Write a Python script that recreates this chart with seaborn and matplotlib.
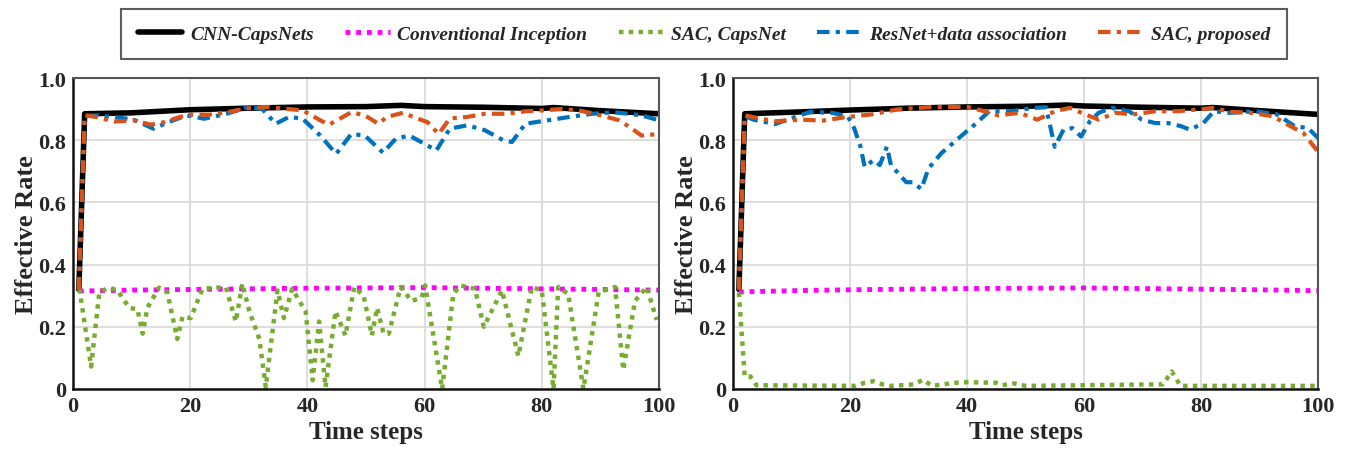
import numpy as np
import pandas as pd
import seaborn as sns
import matplotlib
matplotlib.use("Agg")
import matplotlib.pyplot as plt

# ---------------- data ----------------
# left panel
cnn_x_l = [1, 2, 10, 20, 30, 40, 50, 56, 60, 70, 80, 82, 90, 100]
cnn_y_l = [0.32, 0.885, 0.888, 0.898, 0.903, 0.907, 0.908, 0.912, 0.908, 0.906, 0.902, 0.905, 0.895, 0.885]

incep_x_l = [1, 10, 20, 30, 40, 50, 60, 70, 80, 90, 100]
incep_y_l = [0.315, 0.318, 0.32, 0.322, 0.324, 0.325, 0.326, 0.324, 0.322, 0.32, 0.318]

sac_caps_x_l = [1.1, 3.1, 4.5, 6.2, 7.6, 9.6, 11.0, 11.9, 12.7, 14.7, 16.1, 17.8, 18.7, 20.1,
                22.1, 24.7, 26.1, 27.8, 28.9, 30.1, 31.8, 32.9, 34.9, 36.0, 37.4, 39.7, 40.9,
                42.0, 43.1, 44.8, 46.5, 48.0, 49.6, 51.0, 51.9, 53.0, 53.9, 55.9, 57.8, 59.5,
                60.1, 63.0, 64.9, 66.1, 68.6, 70.1, 73.2, 76.0, 78.3, 80.0, 82.0, 82.8, 84.5,
                87.1, 89.7, 92.5, 93.9, 95.9, 97.9, 99.6]
sac_caps_y_l = [0.322, 0.072, 0.311, 0.326, 0.317, 0.261, 0.256, 0.178, 0.261, 0.326, 0.311, 0.161,
                0.233, 0.228, 0.322, 0.326, 0.326, 0.217, 0.339, 0.25, 0.161, 0.006, 0.317, 0.228,
                0.322, 0.25, 0.028, 0.217, 0.006, 0.25, 0.172, 0.328, 0.3, 0.172, 0.261, 0.178,
                0.178, 0.328, 0.283, 0.294, 0.333, 0.0, 0.306, 0.333, 0.322, 0.2, 0.317, 0.106,
                0.328, 0.317, 0.0, 0.328, 0.306, 0.0, 0.311, 0.328, 0.061, 0.283, 0.328, 0.222]

resnet_x_l = [1, 2, 4.2, 10.3, 13.7, 16.3, 19.4, 22.4, 26.2, 30, 32.3, 34.6, 36.9, 39.2, 42.2,
              44.9, 47.5, 49.8, 52.9, 55.1, 57.4, 60.5, 62, 64.3, 67.3, 70.3, 73.4, 74.9, 77.2,
              81, 84.8, 88.6, 92.4, 97, 100]
resnet_y_l = [0.32, 0.878, 0.88, 0.867, 0.837, 0.858, 0.88, 0.869, 0.885, 0.907, 0.9, 0.853,
              0.875, 0.869, 0.815, 0.756, 0.82, 0.815, 0.76, 0.805, 0.815, 0.783, 0.767, 0.837,
              0.848, 0.832, 0.8, 0.794, 0.853, 0.864, 0.875, 0.885, 0.89, 0.88, 0.864]

sac_prop_x_l = [1, 2, 3.8, 7.2, 10.3, 13.3, 15.6, 19.4, 23.2, 26.2, 30, 33, 36.9, 39.2, 42.2,
                43.7, 47.5, 49.8, 52.1, 53.6, 56.3, 58.9, 60.5, 62.4, 64.3, 67.3, 70.3, 74.1,
                77.2, 80.2, 83.3, 86.3, 90.1, 93.2, 95.4, 97, 100]
sac_prop_y_l = [0.32, 0.88, 0.875, 0.86, 0.864, 0.85, 0.858, 0.882, 0.882, 0.89, 0.903, 0.907,
                0.9, 0.896, 0.864, 0.85, 0.89, 0.88, 0.853, 0.875, 0.888, 0.869, 0.858, 0.82,
                0.87, 0.875, 0.885, 0.885, 0.893, 0.896, 0.9, 0.896, 0.88, 0.864, 0.837, 0.815, 0.82]

# right panel
cnn_x_r = [1, 2, 10, 20, 30, 40, 50, 57, 60, 70, 80, 82, 90, 100]
cnn_y_r = [0.32, 0.885, 0.89, 0.897, 0.903, 0.907, 0.909, 0.913, 0.91, 0.906, 0.903, 0.905, 0.895, 0.883]

incep_x_r = [1, 10, 20, 30, 40, 50, 60, 70, 80, 90, 100]
incep_y_r = [0.312, 0.316, 0.319, 0.321, 0.323, 0.324, 0.325, 0.323, 0.321, 0.319, 0.316]

sac_caps_x_r = [1, 2, 3, 4, 21, 22.5, 24, 25.5, 27, 31, 32.5, 34, 38, 40, 45, 46, 48, 50,
                73.5, 75, 76.5, 100]
sac_caps_y_r = [0.31, 0.04, 0.04, 0.012, 0.01, 0.02, 0.025, 0.015, 0.01, 0.015, 0.03, 0.01,
                0.02, 0.022, 0.02, 0.012, 0.018, 0.01, 0.015, 0.056, 0.01, 0.01]

resnet_x_r = [1, 2, 3.5, 7.2, 10.2, 13.2, 16.9, 19.6, 20.7, 21.8, 22.5, 24, 25.1, 26.3, 27,
              29.6, 30.7, 32.2, 33.4, 35.6, 38.6, 41.6, 43.8, 47.5, 51.3, 53.5, 55, 56.5, 58,
              59.5, 61, 62.5, 64.7, 67.7, 69.9, 72.2, 74.4, 76.6, 78.1, 80.4, 82.2, 84.9, 89.3,
              93, 96, 98.3, 100]
resnet_y_r = [0.32, 0.878, 0.866, 0.852, 0.872, 0.891, 0.888, 0.877, 0.839, 0.779, 0.714, 0.736,
              0.72, 0.779, 0.72, 0.665, 0.665, 0.643, 0.709, 0.758, 0.807, 0.855, 0.893, 0.893,
              0.904, 0.906, 0.779, 0.834, 0.839, 0.812, 0.861, 0.888, 0.904, 0.893, 0.866, 0.855,
              0.855, 0.845, 0.834, 0.855, 0.893, 0.888, 0.893, 0.883, 0.845, 0.839, 0.807]

sac_prop_x_r = [1, 2, 3.5, 7.2, 11.7, 15.4, 19.2, 23.7, 28.1, 34.1, 40.1, 43, 45.3, 49, 52, 55,
                57.6, 60.2, 62.5, 65.4, 68.4, 72.2, 75.9, 79.6, 82.2, 84.9, 88.6, 92.3, 95.3,
                97.5, 100]
sac_prop_y_r = [0.32, 0.88, 0.874, 0.861, 0.866, 0.863, 0.874, 0.883, 0.899, 0.907, 0.907, 0.893,
                0.88, 0.888, 0.866, 0.893, 0.904, 0.883, 0.866, 0.888, 0.883, 0.893, 0.893, 0.899,
                0.904, 0.891, 0.888, 0.877, 0.845, 0.823, 0.763]

labels = ["CNN-CapsNets", "Conventional Inception", "SAC, CapsNet",
          "ResNet+data association", "SAC, proposed"]
colors = ["#000000", "#FF00FF", "#77AC30", "#0072BD", "#D95319"]

panels = [
    [(cnn_x_l, cnn_y_l), (incep_x_l, incep_y_l), (sac_caps_x_l, sac_caps_y_l),
     (resnet_x_l, resnet_y_l), (sac_prop_x_l, sac_prop_y_l)],
    [(cnn_x_r, cnn_y_r), (incep_x_r, incep_y_r), (sac_caps_x_r, sac_caps_y_r),
     (resnet_x_r, resnet_y_r), (sac_prop_x_r, sac_prop_y_r)],
]

# ---------------- style ----------------
sns.set_style("whitegrid")
plt.rcParams['font.family'] = ['Liberation Serif', 'DejaVu Serif']
plt.rcParams['font.weight'] = 'bold'

styles = [dict(linestyle='-', linewidth=4.0),
          dict(linestyle=(0, (1, 1.2)), linewidth=3.5),
          dict(linestyle=(0, (1, 1.2)), linewidth=3.2),
          dict(linestyle=(0, (3, 1.5, 1, 1.5)), linewidth=3.0),
          dict(linestyle=(0, (3, 1.5, 1, 1.5)), linewidth=3.0)]

fig = plt.figure(figsize=(13.46, 4.52), dpi=100)
ax_l = fig.add_axes([0.0542, 0.1372, 0.4354, 0.688])
ax_r = fig.add_axes([0.5446, 0.1372, 0.4346, 0.688])

for ax, series in zip([ax_l, ax_r], panels):
    for (xs, ys), lab, col, st in zip(series, labels, colors, styles):
        df = pd.DataFrame({"t": xs, "rate": ys})
        sns.lineplot(data=df, x="t", y="rate", ax=ax, color=col, label=lab,
                     legend=False, **st)
    ax.set_xlim(0, 100)
    ax.set_ylim(0, 1.0)
    ax.set_xticks([0, 20, 40, 60, 80, 100])
    ax.set_yticks([0, 0.2, 0.4, 0.6, 0.8, 1.0])
    ax.set_yticklabels(["0", "0.2", "0.4", "0.6", "0.8", "1.0"])
    ax.tick_params(axis='y', labelsize=16, pad=5, length=0)
    ax.tick_params(axis='x', labelsize=16, pad=5, length=0)
    for lb in ax.get_xticklabels() + ax.get_yticklabels():
        lb.set_fontweight('bold')
    ax.grid(True, color="#d8d8d8", linewidth=1.2)
    ax.set_xlabel("Time steps", fontsize=18, fontweight='bold', labelpad=3)
    ax.set_ylabel("Effective Rate", fontsize=19, fontweight='bold', labelpad=0)
    for side in ['left', 'bottom']:
        ax.spines[side].set_color('#111111')
        ax.spines[side].set_linewidth(1.8)
    for side in ['top', 'right']:
        ax.spines[side].set_color('#555555')
        ax.spines[side].set_linewidth(1.5)

handles, labs = ax_l.get_legend_handles_labels()
leg = fig.legend(handles, labs, loc='center', bbox_to_anchor=(0.523, 0.9226), ncol=5,
                 frameon=True, fancybox=False, handlelength=2.3, columnspacing=1.6,
                 handletextpad=0.4, borderpad=0.85,
                 prop=dict(family='Liberation Serif', style='italic', weight='bold', size=14))
leg.get_frame().set_edgecolor('#333333')
leg.get_frame().set_linewidth(1.5)

fig.savefig("out.png", dpi=100)
